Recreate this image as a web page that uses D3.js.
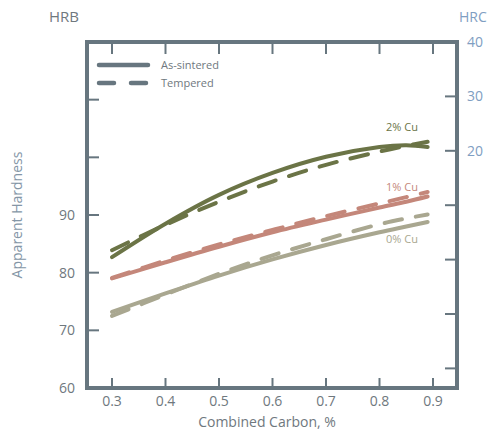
<!DOCTYPE html>
<html><head><meta charset="utf-8">
<script src="https://cdn.jsdelivr.net/npm/d3@7"></script>
<style>body{margin:0;background:#fff}svg{display:block;font-family:"Open Sans",Roboto,sans-serif}</style>
</head><body><svg id="c" width="488" height="431"></svg>
<script>
const carbon = [0.3, 0.4, 0.5, 0.6, 0.7, 0.8, 0.85, 0.89];
const cu2Sintered = [82.7, 88.5, 93.5, 97.3, 100.1, 101.8, 102.1, 101.8];
const cu2Tempered = [83.9, 88.3, 92.3, 95.8, 98.7, 101.0, 102.0, 102.7];
const cu1Sintered = [79.0, 81.8, 84.5, 87.0, 89.2, 91.3, 92.3, 93.2];
const cu1Tempered = [79.1, 82.1, 84.9, 87.4, 89.8, 92.0, 93.1, 94.0];
const cu0Sintered = [73.2, 76.4, 79.5, 82.3, 84.8, 87.0, 88.0, 88.8];
const cu0Tempered = [72.5, 76.2, 79.8, 83.0, 85.8, 88.4, 89.4, 90.1];
const xTicks = [0.3, 0.4, 0.5, 0.6, 0.7, 0.8, 0.9];
const hrbTicks = [60, 70, 80, 90, 100, 110];
const hrbLabels = [60, 70, 80, 90];
const hrcTicks = [40, 30, 20, 10, 0, -10, -20];
const hrcLabels = [40, 30, 20];
const seriesNames = ["2% Cu", "1% Cu", "0% Cu"];
const seriesColors = ["#6b7446", "#c4877a", "#a9a790"];
const legendNames = ["As-sintered", "Tempered"];

const svg = d3.select("#c");
const L = 87, R = 457, T = 42, B = 388;
const frameColor = "#67767f";
const x = d3.scaleLinear().domain([0.3, 0.9]).range([112, 433]);
const yL = d3.scaleLinear().domain([60, 120]).range([B, T]);
const yR = d3.scaleLinear().domain([40 - (B - T) / 5.44, 40]).range([B, T]);

// ticks
const tk = svg.append("g").attr("stroke", frameColor).attr("stroke-width", 2);
xTicks.forEach(v => {
  tk.append("line").attr("x1", x(v)).attr("x2", x(v)).attr("y1", T).attr("y2", T + 12);
  tk.append("line").attr("x1", x(v)).attr("x2", x(v)).attr("y1", B).attr("y2", B - 10);
});
hrbTicks.forEach(v => tk.append("line").attr("x1", L).attr("x2", L + 12).attr("y1", yL(v)).attr("y2", yL(v)));
hrcTicks.forEach(v => tk.append("line").attr("x1", R).attr("x2", R - 12).attr("y1", yR(v)).attr("y2", yR(v)));

// frame
svg.append("rect").attr("x", L).attr("y", T).attr("width", R - L).attr("height", B - T)
  .attr("fill", "none").attr("stroke", frameColor).attr("stroke-width", 4);

// tick labels
svg.append("g").selectAll("text").data(xTicks).join("text")
  .attr("x", d => x(d)).attr("y", 406).attr("text-anchor", "middle")
  .attr("font-size", 14).attr("fill", "#6f787e").text(d => d3.format(".1f")(d));
svg.append("g").selectAll("text").data(hrbLabels).join("text")
  .attr("x", 75).attr("y", d => yL(d) + 5).attr("text-anchor", "end")
  .attr("font-size", 14).attr("fill", "#6f787e").text(d => d);
svg.append("g").selectAll("text").data(hrcLabels).join("text")
  .attr("x", 467).attr("y", d => yR(d) + 5).attr("text-anchor", "start")
  .attr("font-size", 14).attr("fill", "#7f9ec2").text(d => d);

svg.append("text").attr("x", 49).attr("y", 22).attr("font-size", 15).attr("fill", "#6f787e").text("HRB");
svg.append("text").attr("x", 459).attr("y", 22).attr("font-size", 14).attr("fill", "#7f9ec2").text("HRC");
svg.append("text").attr("transform", "translate(22,215) rotate(-90)").attr("text-anchor", "middle")
  .attr("font-size", 14).attr("fill", "#8496a6").text("Apparent Hardness");
svg.append("text").attr("x", 267).attr("y", 427).attr("text-anchor", "middle")
  .attr("font-size", 14).attr("fill", "#6f787e").text("Combined Carbon, %");

// curves
const line = d3.line().x(d => x(d[0])).y(d => yL(d[1])).curve(d3.curveCatmullRom.alpha(0.5));
const sets = [[cu2Sintered, cu2Tempered], [cu1Sintered, cu1Tempered], [cu0Sintered, cu0Tempered]];
sets.forEach((s, i) => {
  svg.append("path").datum(carbon.map((c, j) => [c, s[0][j]])).attr("d", line)
    .attr("fill", "none").attr("stroke", seriesColors[i]).attr("stroke-width", 4).attr("stroke-linecap", "round");
  svg.append("path").datum(carbon.map((c, j) => [c, s[1][j]])).attr("d", line)
    .attr("fill", "none").attr("stroke", seriesColors[i]).attr("stroke-width", 4)
    .attr("stroke-dasharray", "18,14").attr("stroke-linecap", "round");
});

// series labels
const labY = [127, 187, 239];
seriesNames.forEach((n, i) => svg.append("text").attr("x", 386).attr("y", labY[i] + 4)
  .attr("font-size", 11).attr("fill", seriesColors[i]).text(n));

// legend
const lg = svg.append("g");
lg.append("line").attr("x1", 99).attr("x2", 148).attr("y1", 65).attr("y2", 65)
  .attr("stroke", frameColor).attr("stroke-width", 4.5).attr("stroke-linecap", "round");
lg.append("line").attr("x1", 99).attr("x2", 148).attr("y1", 83).attr("y2", 83)
  .attr("stroke", frameColor).attr("stroke-width", 4.5).attr("stroke-linecap", "round")
  .attr("stroke-dasharray", "15,17");
legendNames.forEach((n, i) => lg.append("text").attr("x", 161).attr("y", 69 + i * 18)
  .attr("font-size", 11).attr("fill", "#6f787e").text(n));
</script></body></html>
